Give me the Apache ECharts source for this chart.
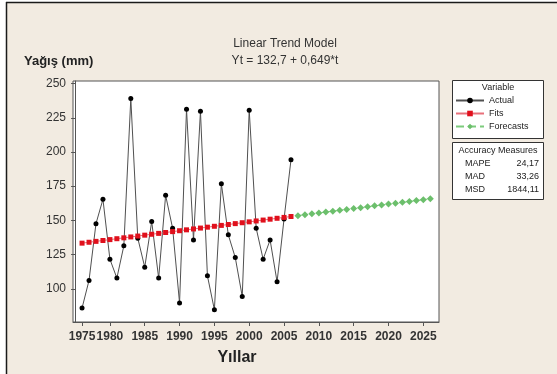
<!DOCTYPE html>
<html>
<head>
<meta charset="utf-8">
<script src="https://cdn.jsdelivr.net/npm/echarts@6/dist/echarts.min.js"></script>
<style>
  html, body { margin: 0; padding: 0; background: #ffffff; }
  #chart { width: 557px; height: 374px; }
</style>
</head>
<body>
<div id="chart"></div>
<script>
// Annual precipitation (mm), observed series
const actual = [85.9, 106.1, 147.6, 165.4, 121.6, 107.8, 131.4, 239.1, 137.0, 115.8,
                149.1, 107.8, 168.3, 144.3, 89.6, 231.3, 135.7, 229.8, 109.5, 84.7,
                176.8, 139.4, 122.8, 94.4, 230.6, 144.3, 121.6, 135.7, 105.1, 151.0, 194.3];
// Linear trend model: Yt = 132.7 + 0.649*t
const trendIntercept = 132.7;
const trendSlope = 0.649;
const forecastCount = 20;
// Time index positions carrying tick marks, and their year labels
const tickIndex = [1, 5, 10, 15, 20, 25, 30, 35, 40, 45, 50];
const tickLabels = ['1975', '1980', '1985', '1990', '1995', '2000', '2005', '2010', '2015', '2020', '2025'];
const yTicks = [100, 125, 150, 175, 200, 225, 250];
const accuracyNames = ['MAPE', 'MAD', 'MSD'];
const accuracyValues = ['24,17', '33,26', '1844,11'];

const actualData = actual.map((v, i) => [i + 1, v]);
const fitsData = actual.map((v, i) => [i + 1, +(trendIntercept + trendSlope * (i + 1)).toFixed(3)]);
const forecastData = [];
for (let k = 1; k <= forecastCount; k++) {
  const t = actual.length + k;
  forecastData.push([t, +(trendIntercept + trendSlope * t).toFixed(3)]);
}

const FONT = '"Liberation Sans", Arial, sans-serif';
const chart = echarts.init(document.getElementById('chart'), null, { renderer: 'canvas' });

const graphics = [
  // page background with its top and left frame edges
  { type: 'rect', shape: { x: 6, y: 2, width: 560, height: 380 }, style: { fill: '#F2EBE1' }, z: -10, silent: true },
  { type: 'line', shape: { x1: 6, y1: 2.5, x2: 557, y2: 2.5 }, style: { stroke: '#1a1a1a', lineWidth: 1.5 }, z: -9, silent: true },
  { type: 'line', shape: { x1: 6.5, y1: 2, x2: 6.5, y2: 374 }, style: { stroke: '#1a1a1a', lineWidth: 1.5 }, z: -9, silent: true },
  // titles
  { type: 'text', x: 285, y: 38, style: { text: 'Linear Trend Model', font: '12px ' + FONT, fill: '#333', align: 'center' } },
  { type: 'text', x: 285, y: 55, style: { text: 'Yt = 132,7 + 0,649*t', font: '12px ' + FONT, fill: '#333', align: 'center' } },
  { type: 'text', x: 24, y: 55, style: { text: 'Yağış (mm)', font: 'bold 13px ' + FONT, fill: '#222' } },
  { type: 'text', x: 237, y: 350, style: { text: 'Yıllar', font: 'bold 16px ' + FONT, fill: '#222', align: 'center' } },
  // legend box
  { type: 'rect', shape: { x: 452.5, y: 80.5, width: 91, height: 58 }, style: { fill: '#ffffff', stroke: '#333', lineWidth: 1 }, z: 1 },
  { type: 'text', x: 498, y: 83, style: { text: 'Variable', font: '9px ' + FONT, fill: '#222', align: 'center' }, z: 2 },
  // accuracy measures box
  { type: 'rect', shape: { x: 452.5, y: 142.5, width: 91, height: 57 }, style: { fill: '#ffffff', stroke: '#333', lineWidth: 1 }, z: 1 },
  { type: 'text', x: 498, y: 146, style: { text: 'Accuracy Measures', font: '9px ' + FONT, fill: '#222', align: 'center' }, z: 2 }
];
accuracyNames.forEach((name, i) => {
  graphics.push({ type: 'text', x: 465, y: 159 + i * 13, style: { text: name, font: '9px ' + FONT, fill: '#222' }, z: 2 });
  graphics.push({ type: 'text', x: 539, y: 159 + i * 13, style: { text: accuracyValues[i], font: '9px ' + FONT, fill: '#222', align: 'right' }, z: 2 });
});

chart.setOption({
  backgroundColor: '#ffffff',
  animation: false,
  textStyle: { fontFamily: FONT },
  grid: {
    left: 73, top: 81, right: 118, bottom: 52,
    show: true, backgroundColor: '#ffffff', borderColor: '#555', borderWidth: 1
  },
  legend: {
    orient: 'vertical',
    left: 455, top: 96,
    itemWidth: 28, itemHeight: 7, itemGap: 4,
    padding: 0,
    textStyle: { fontSize: 9, color: '#222', fontFamily: FONT },
    data: ['Actual', 'Fits', 'Forecasts'],
    z: 5
  },
  xAxis: {
    type: 'value',
    min: -0.3, max: 52.25,
    splitLine: { show: false },
    axisLine: { show: true, lineStyle: { color: '#555' } },
    axisTick: { show: true, length: 4, lineStyle: { color: '#555' }, customValues: tickIndex },
    axisLabel: {
      customValues: tickIndex,
      margin: 9,
      fontSize: 12, fontWeight: 'bold', color: '#333', fontFamily: FONT,
      formatter: v => tickLabels[tickIndex.indexOf(Math.round(v))] || ''
    }
  },
  yAxis: {
    type: 'value',
    min: 75.7, max: 251.9,
    splitLine: { show: false },
    axisLine: { show: true, lineStyle: { color: '#555' } },
    axisTick: { show: true, length: 4, lineStyle: { color: '#555' }, customValues: yTicks },
    axisLabel: { customValues: yTicks, margin: 7, fontSize: 12, color: '#333', fontFamily: FONT }
  },
  graphic: graphics,
  series: [
    {
      name: 'Actual', type: 'line', data: actualData,
      symbol: 'circle', symbolSize: 5,
      lineStyle: { color: '#505050', width: 1 },
      itemStyle: { color: '#000000' },
      z: 2
    },
    {
      name: 'Fits', type: 'line', data: fitsData,
      symbol: 'rect', symbolSize: 5,
      lineStyle: { color: '#E8707A', width: 1, type: 'solid' },
      itemStyle: { color: '#E0101C' },
      z: 3
    },
    {
      name: 'Forecasts', type: 'line', data: forecastData,
      symbol: 'diamond', symbolSize: 7,
      lineStyle: { color: '#7CCB7C', width: 1, type: 'dashed' },
      itemStyle: { color: '#6CBF6C' },
      z: 3
    }
  ]
});
</script>
</body>
</html>
